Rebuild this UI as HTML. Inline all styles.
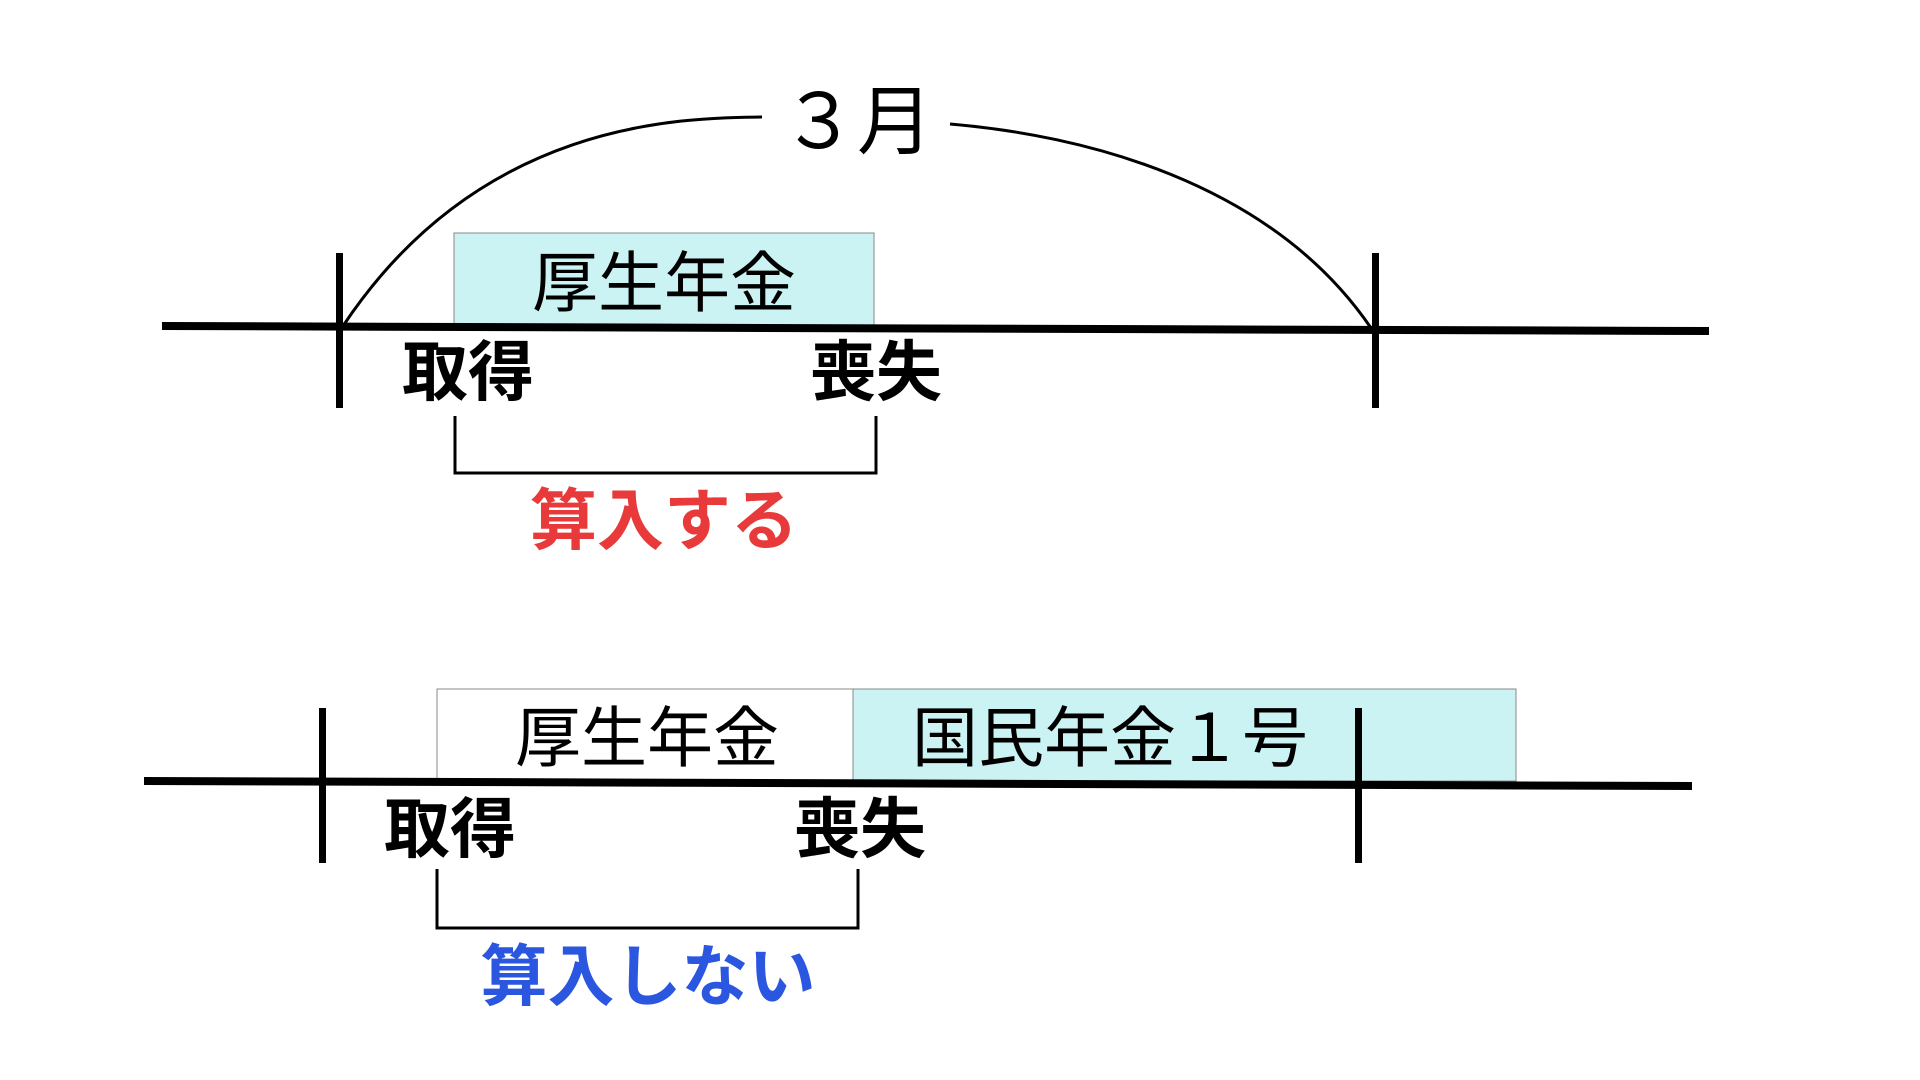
<!DOCTYPE html>
<html><head><meta charset="utf-8"><style>
html,body{margin:0;padding:0;background:#fff;}
svg{display:block}
text{font-family:"Liberation Sans","Noto Sans CJK JP",sans-serif;}
</style></head><body>
<svg width="1920" height="1080" viewBox="0 0 1920 1080" xmlns="http://www.w3.org/2000/svg">
<!-- top -->
<path d="M343 326 C 480 120, 680 118, 762 117" fill="none" stroke="#000" stroke-width="3"/>
<path d="M950 124 C 1080 135, 1270 180, 1371 328" fill="none" stroke="#000" stroke-width="3"/>
<text x="857" y="148" font-size="76" text-anchor="middle">３月</text>
<rect x="454" y="233" width="420" height="93" fill="#ccf3f3" stroke="#888" stroke-width="1"/>
<text x="664" y="306" font-size="66" text-anchor="middle">厚生年金</text>
<polygon points="162,322 1709,327 1709,335 162,330" fill="#000"/>
<rect x="336" y="253" width="7" height="155" fill="#000"/>
<rect x="1372" y="253" width="7" height="155" fill="#000"/>
<text x="468" y="395" font-size="66" font-weight="bold" text-anchor="middle">取得</text>
<text x="876" y="395" font-size="66" font-weight="bold" text-anchor="middle">喪失</text>
<polyline points="455,416 455,473 876,473 876,416" fill="none" stroke="#000" stroke-width="3"/>
<text x="664" y="544" font-size="67" font-weight="bold" fill="#e83a3a" text-anchor="middle">算入する</text>
<!-- bottom -->
<rect x="437" y="689" width="416" height="92" fill="#fff" stroke="#888" stroke-width="1"/>
<rect x="853" y="689" width="663" height="92" fill="#ccf3f3" stroke="#888" stroke-width="1"/>
<text x="647" y="761" font-size="66" text-anchor="middle">厚生年金</text>
<text x="1110" y="761" font-size="66" text-anchor="middle">国民年金１号</text>
<polygon points="144,777 1692,782 1692,790 144,785" fill="#000"/>
<rect x="319" y="708" width="7" height="155" fill="#000"/>
<rect x="1355" y="708" width="7" height="155" fill="#000"/>
<text x="450" y="852" font-size="66" font-weight="bold" text-anchor="middle">取得</text>
<text x="860" y="852" font-size="66" font-weight="bold" text-anchor="middle">喪失</text>
<polyline points="437,869 437,928 858,928 858,869" fill="none" stroke="#000" stroke-width="3"/>
<text x="648" y="1000" font-size="67" font-weight="bold" fill="#2b56e0" text-anchor="middle">算入しない</text>
</svg>
</body></html>
